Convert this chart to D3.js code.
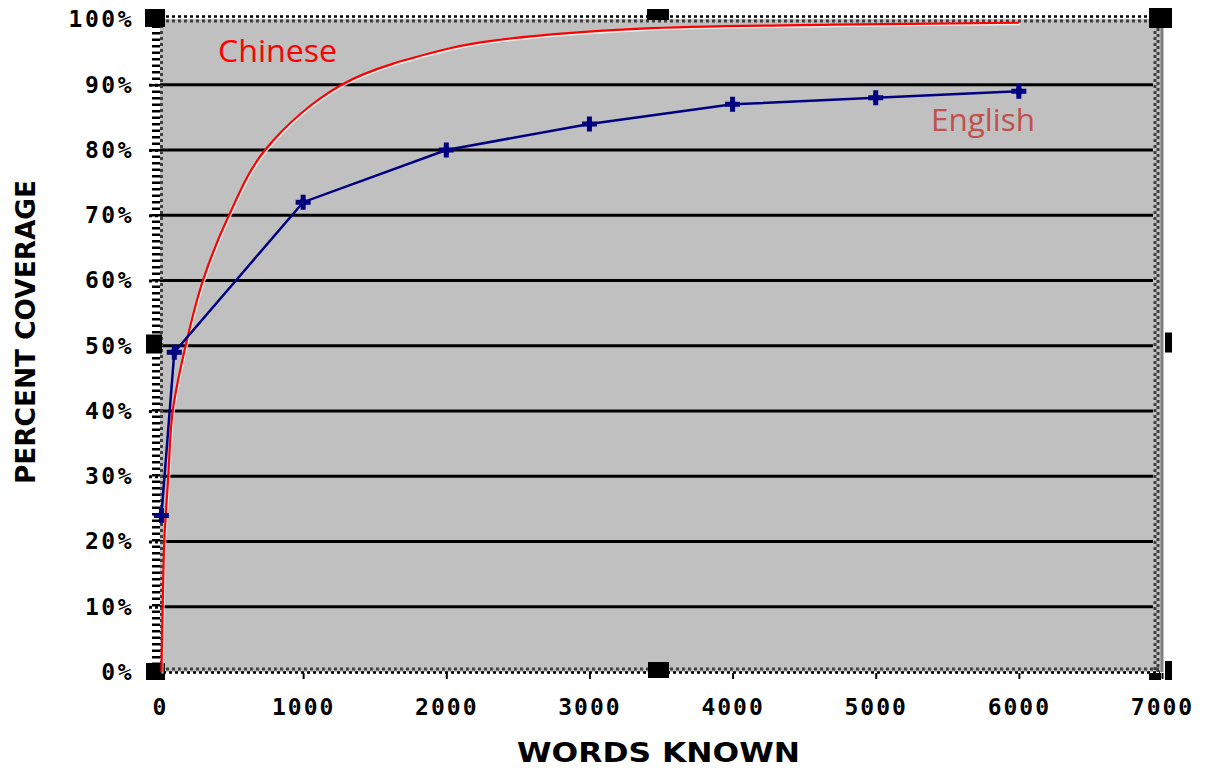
<!DOCTYPE html>
<html>
<head>
<meta charset="utf-8">
<script src="https://cdn.jsdelivr.net/npm/d3@7"></script>
<style>
  html, body { margin: 0; padding: 0; background: #ffffff; }
  svg { display: block; }
</style>
</head>
<body>
<svg id="chart" width="1205" height="768"></svg>
<script>
// Vocabulary size vs. text coverage, English and Chinese
const xTickValues = [0, 1000, 2000, 3000, 4000, 5000, 6000, 7000];
const yTickValues = [0, 0.1, 0.2, 0.3, 0.4, 0.5, 0.6, 0.7, 0.8, 0.9, 1.0];

const englishWords    = [10, 100, 1000, 2000, 3000, 4000, 5000, 6000];
const englishCoverage = [0.24, 0.49, 0.72, 0.80, 0.84, 0.87, 0.88, 0.89];

const chineseWords    = [10, 19, 30, 58, 89, 179, 300, 482, 734, 1269, 2026, 2375, 3360, 4702, 6000];
const chineseCoverage = [0, 0.10, 0.20, 0.30, 0.40, 0.50, 0.60, 0.70, 0.80, 0.90, 0.956, 0.969, 0.986, 0.992, 0.995];

const seriesLabels = ["Chinese", "English"];
const axisTitles = { x: "WORDS KNOWN", y: "PERCENT COVERAGE" };

const svg = d3.select("#chart");
const plot = { left: 160, right: 1162, top: 19, bottom: 672 };

const x = d3.scaleLinear().domain([0, 7000]).range([plot.left, plot.right]);
const y = d3.scaleLinear().domain([0, 1]).range([plot.bottom, plot.top + 0.5]);

// plot background
svg.append("rect")
  .attr("x", plot.left).attr("y", plot.top)
  .attr("width", plot.right - plot.left).attr("height", plot.bottom - plot.top)
  .attr("fill", "#c0c0c0");

// horizontal gridlines
svg.append("g").selectAll("line")
  .data(yTickValues.filter(v => v > 0 && v < 1))
  .join("line")
  .attr("x1", plot.left).attr("x2", plot.right - 9)
  .attr("y1", d => y(d)).attr("y2", d => y(d))
  .attr("stroke", "#000").attr("stroke-width", 3);

// frame: checkered inner border and dotted outer border
const frame = svg.append("g");
// top
frame.append("line").attr("x1", plot.left).attr("x2", plot.right - 2)
  .attr("y1", plot.top - 2.5).attr("y2", plot.top - 2.5)
  .attr("stroke", "#000").attr("stroke-width", 2.5).attr("stroke-dasharray", "3,3");
frame.append("line").attr("x1", plot.left).attr("x2", plot.right - 2)
  .attr("y1", plot.top + 2).attr("y2", plot.top + 2)
  .attr("stroke", "#404040").attr("stroke-width", 3).attr("stroke-dasharray", "3,3");
// left
frame.append("line").attr("x1", plot.left - 4).attr("x2", plot.left - 4)
  .attr("y1", plot.top).attr("y2", plot.bottom)
  .attr("stroke", "#000").attr("stroke-width", 8).attr("stroke-dasharray", "2.5,4");
frame.append("line").attr("x1", plot.left + 1.5).attr("x2", plot.left + 1.5)
  .attr("y1", plot.top).attr("y2", plot.bottom)
  .attr("stroke", "#404040").attr("stroke-width", 3).attr("stroke-dasharray", "3,3");
// right
frame.append("line").attr("x1", plot.right - 7).attr("x2", plot.right - 7)
  .attr("y1", plot.top).attr("y2", plot.bottom)
  .attr("stroke", "#404040").attr("stroke-width", 3).attr("stroke-dasharray", "3,3");
frame.append("line").attr("x1", plot.right - 4).attr("x2", plot.right - 4)
  .attr("y1", plot.top).attr("y2", plot.bottom)
  .attr("stroke", "#404040").attr("stroke-width", 3).attr("stroke-dasharray", "3,3").attr("stroke-dashoffset", 3);
frame.append("rect").attr("x", plot.right - 1.5).attr("y", plot.top)
  .attr("width", 3).attr("height", plot.bottom - plot.top).attr("fill", "#808080");
// bottom
frame.append("line").attr("x1", plot.left).attr("x2", plot.right - 2)
  .attr("y1", plot.bottom - 3).attr("y2", plot.bottom - 3)
  .attr("stroke", "#404040").attr("stroke-width", 3).attr("stroke-dasharray", "3,3");
frame.append("line").attr("x1", plot.left).attr("x2", plot.right - 2)
  .attr("y1", plot.bottom + 0.5).attr("y2", plot.bottom + 0.5)
  .attr("stroke", "#000").attr("stroke-width", 2.5).attr("stroke-dasharray", "3,3").attr("stroke-dashoffset", 3);

// axes
const tickFont = "'DejaVu Sans Mono', monospace";

const yAxis = svg.append("g")
  .attr("transform", `translate(${plot.left - 2},0)`)
  .call(d3.axisLeft(y).tickValues(yTickValues).tickFormat(d3.format(".0%")).tickSize(10).tickPadding(14));
yAxis.select(".domain").remove();
yAxis.selectAll(".tick line")
  .attr("stroke", "#000").attr("stroke-width", 3).attr("stroke-dasharray", "3,3");
yAxis.selectAll(".tick text")
  .attr("font-family", tickFont).attr("font-weight", "bold").attr("font-size", 23)
  .attr("letter-spacing", 2.5).attr("fill", "#000");

const xAxis = svg.append("g")
  .attr("transform", `translate(0,${plot.bottom + 1})`)
  .call(d3.axisBottom(x).tickValues(xTickValues).tickFormat(d3.format("d")).tickSize(6).tickPadding(20));
xAxis.select(".domain").remove();
xAxis.selectAll(".tick line").attr("stroke", "#000").attr("stroke-width", 2);
xAxis.selectAll(".tick text")
  .attr("font-family", tickFont).attr("font-weight", "bold").attr("font-size", 23)
  .attr("letter-spacing", 2).attr("fill", "#000");

// selection handles at the corners and mid-edges of the frame
const midX = (plot.left + plot.right) / 2;
const midY = (plot.top + plot.bottom) / 2;
const handles = [
  [plot.left - 15, plot.top - 10, 20, 18],
  [midX - 14, plot.top - 10, 22, 11],
  [plot.right - 13, plot.top - 11, 23, 20],
  [plot.left - 14, midY - 11, 16, 19],
  [plot.right + 3, midY - 13, 7, 20],
  [plot.left - 14, plot.bottom - 9, 19, 17],
  [midX - 13, plot.bottom - 10, 21, 16],
  [plot.right + 3, plot.bottom - 11, 7, 19],
  [plot.right - 13, plot.bottom + 1, 12, 7]
];
svg.append("g").selectAll("rect")
  .data(handles)
  .join("rect")
  .attr("x", d => d[0]).attr("y", d => d[1])
  .attr("width", d => d[2]).attr("height", d => d[3])
  .attr("fill", "#000");

// Chinese curve: red with a pale halo
const chinese = chineseWords.map((w, i) => [w, chineseCoverage[i]]);
const curveLine = d3.line().x(d => x(d[0])).y(d => y(d[1])).curve(d3.curveCatmullRom.alpha(0.5));
svg.append("path").datum(chinese)
  .attr("d", curveLine)
  .attr("transform", "translate(1,1.5)")
  .attr("fill", "none").attr("stroke", "#ffffff").attr("stroke-opacity", 0.75).attr("stroke-width", 2);
svg.append("path").datum(chinese)
  .attr("d", curveLine)
  .attr("fill", "none").attr("stroke", "#ff0000").attr("stroke-width", 2.2);

// English series: navy line with heavy cross markers
const english = englishWords.map((w, i) => [w, englishCoverage[i]]);
svg.append("path").datum(english)
  .attr("d", d3.line().x(d => x(d[0])).y(d => y(d[1])))
  .attr("fill", "none").attr("stroke", "#000080").attr("stroke-width", 2.5);
const markers = svg.append("g").selectAll("g")
  .data(english)
  .join("g")
  .attr("transform", d => `translate(${x(d[0])},${y(d[1])})`);
markers.append("path").attr("d", d3.symbol(d3.symbolCross, 125)).attr("fill", "#000080");
markers.append("path").attr("d", d3.symbol(d3.symbolDiamond, 60)).attr("fill", "#000080");

// series labels
svg.append("text")
  .attr("x", 218).attr("y", 62)
  .attr("font-family", "'Open Sans', sans-serif").attr("font-size", 31)
  .attr("textLength", 119).attr("lengthAdjust", "spacingAndGlyphs")
  .attr("fill", "#ff0000").text(seriesLabels[0]);
svg.append("text")
  .attr("x", 931).attr("y", 131)
  .attr("font-family", "'Open Sans', sans-serif").attr("font-size", 31)
  .attr("textLength", 104).attr("lengthAdjust", "spacingAndGlyphs")
  .attr("fill", "#c0504d").text(seriesLabels[1]);

// axis titles
svg.append("text")
  .attr("x", 517).attr("y", 762)
  .attr("font-family", "'DejaVu Sans', sans-serif").attr("font-weight", "bold").attr("font-size", 26)
  .attr("textLength", 283).attr("lengthAdjust", "spacingAndGlyphs")
  .attr("fill", "#000").text(axisTitles.x);
svg.append("text")
  .attr("transform", "translate(35,484) rotate(-90)")
  .attr("font-family", "'DejaVu Sans', sans-serif").attr("font-weight", "bold").attr("font-size", 26)
  .attr("textLength", 304).attr("lengthAdjust", "spacingAndGlyphs")
  .attr("fill", "#000").text(axisTitles.y);
</script>
</body>
</html>
